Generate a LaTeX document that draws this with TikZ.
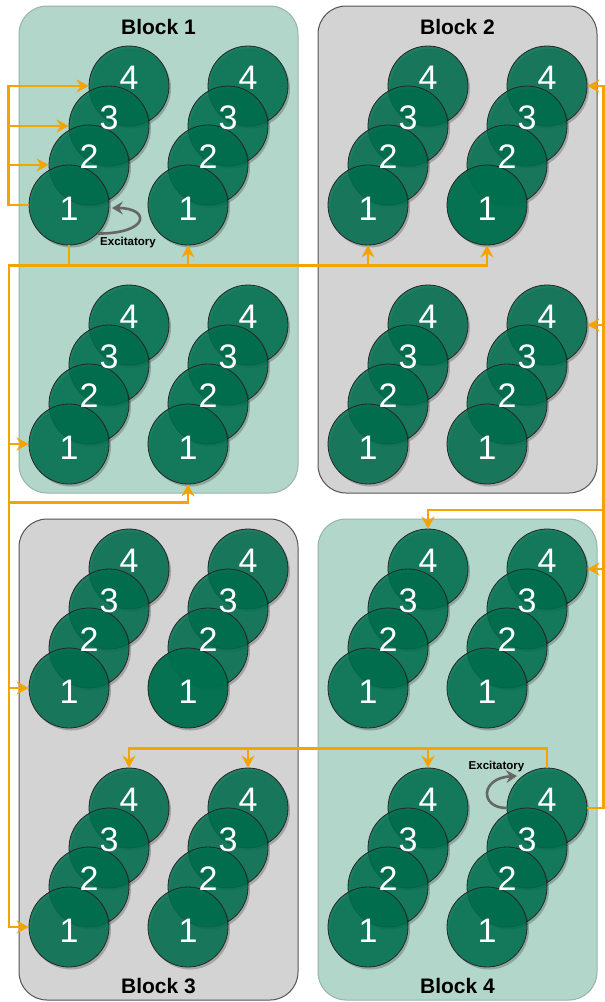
\documentclass[tikz,border=0pt]{standalone}
\usepackage{fontspec}
\setmainfont{Liberation Sans}
\usetikzlibrary{arrows.meta,calc,shadows}
\definecolor{orng}{RGB}{245,163,0}
\definecolor{tealbg}{RGB}{178,214,202}
\definecolor{tealbd}{RGB}{150,180,170}
\definecolor{graybg}{RGB}{211,211,211}
\definecolor{graybd}{RGB}{85,85,85}
\definecolor{neur}{RGB}{0,112,79}
\definecolor{loopc}{RGB}{102,102,102}
\tikzset{
  blockt/.style={draw=tealbd, fill=tealbg, rounded corners=28pt, line width=1pt, inner sep=0pt},
  blockg/.style={draw=graybd, fill=graybg, rounded corners=28pt, line width=1pt, inner sep=0pt},
  neuron/.style={circle, minimum size=80pt, inner sep=0pt, draw=black!85, line width=0.8pt,
    fill=neur, fill opacity=0.85,
    drop shadow={shadow xshift=2pt, shadow yshift=-2.5pt, opacity=0.22, fill=black}},
  solidneuron/.style={neuron, fill opacity=0.96},
  numtext/.style={text=white, font=\fontsize{34}{34}\selectfont, inner sep=0pt},
  blocktitle/.style={font=\bfseries\fontsize{21}{21}\selectfont, inner sep=0pt},
  exc/.style={font=\bfseries\fontsize{11.5}{12}\selectfont, inner sep=0pt},
  conn/.style={draw=orng, line width=2.4pt, -{Stealth[length=12pt,width=13pt,inset=4pt]}},
  selfloop/.style={draw=loopc, line width=2.6pt, -{Stealth[length=11pt,width=13pt,inset=4pt]}},
}
\newcommand{\neuronstack}[4]{%
  \node[neuron] (#1n4) at (#2+60,#3-119) {};
  \node[neuron] (#1n3) at (#2+40,#3-79) {};
  \node[neuron] (#1n2) at (#2+20,#3-40) {};
  \node[#4] (#1n1) at (#2,#3) {};
  \node[numtext] (#1t4) at ($(#1n4)+(0,-8)$) {4};
  \node[numtext] (#1t3) at ($(#1n3)+(0,-8)$) {3};
  \node[numtext] (#1t2) at ($(#1n2)+(0,-8)$) {2};
  \node[numtext] (#1t1) at ($(#1n1)+(0,4)$) {1};
}
\begin{document}
\begin{tikzpicture}[x=1pt,y=-1pt]
\fill[white] (0,0) rectangle (605,1002);
\useasboundingbox (0,0) rectangle (605,1002);
% blocks
\node[blockt, minimum width=279pt, minimum height=487pt] (b1) at (158.5,249.5) {};
\node[blockg, minimum width=279pt, minimum height=487pt] (b2) at (457.5,249.5) {};
\node[blockg, minimum width=279pt, minimum height=481pt] (b3) at (158.5,759.5) {};
\node[blockt, minimum width=279pt, minimum height=481pt] (b4) at (457.5,759.5) {};
\node[blocktitle] (b1title) at (158.5,27) {Block 1};
\node[blocktitle] (b2title) at (457.5,27) {Block 2};
\node[blocktitle] (b3title) at (158.5,986) {Block 3};
\node[blocktitle] (b4title) at (457.5,986) {Block 4};
% neuron stacks
\neuronstack{b1tl}{69}{205}{neuron}
\neuronstack{b1tr}{188}{205}{neuron}
\neuronstack{b1bl}{69}{444}{neuron}
\neuronstack{b1br}{188}{444}{neuron}
\neuronstack{b2tl}{368}{205}{neuron}
\neuronstack{b2tr}{487}{205}{solidneuron}
\neuronstack{b2bl}{368}{444}{neuron}
\neuronstack{b2br}{487}{444}{neuron}
\neuronstack{b3tl}{69}{688}{neuron}
\neuronstack{b3tr}{188}{688}{solidneuron}
\neuronstack{b3bl}{69}{927}{neuron}
\neuronstack{b3br}{188}{927}{neuron}
\neuronstack{b4tl}{368}{688}{neuron}
\neuronstack{b4tr}{487}{688}{neuron}
\neuronstack{b4bl}{368}{927}{neuron}
\neuronstack{b4br}{487}{927}{neuron}
% connectors from block 1 neuron 1
\draw[conn] (b1tln1.west) -- ++(-20,0) |- (b1tln4.west);
\draw[conn] (b1tln1.west) -- ++(-20,0) |- (b1tln3.west);
\draw[conn] (b1tln1.west) -- ++(-20,0) |- (b1tln2.west);
\coordinate (busA) at ($(b1tln1.south)+(0,20)$);
\coordinate (leftbus) at ($(busA)+(-60,0)$);
\coordinate (lowbus) at ($(leftbus)+(0,237)$);
\draw[conn] (b1tln1.south) -- (busA) -| (b1trn1.south);
\draw[conn] (b1tln1.south) -- (busA) -| (b2tln1.south);
\draw[conn] (b1tln1.south) -- (busA) -| (b2trn1.south);
\draw[conn] (b1tln1.south) -- (busA) -- (leftbus) |- (b1bln1.west);
\draw[conn] (leftbus) -- (lowbus) -| (b1brn1.south);
\draw[conn] (leftbus) |- (b3tln1.west);
\draw[conn] (leftbus) |- (b3bln1.west);
% connectors from block 4 neuron 4
\coordinate (rbus) at ($(b4brn4.east)+(16,0)$);
\coordinate (rbtop) at ($(rbus)+(0,-298)$);
\draw[conn] (b4brn4.east) -- (rbus) |- (b2trn4.east);
\draw[conn] (rbus) |- (b2brn4.east);
\draw[conn] (rbus) |- (b4trn4.east);
\draw[conn] (rbus) -- (rbtop) -| (b4tln4.north);
\coordinate (tbus) at ($(b4brn4.north)+(0,-19)$);
\draw[conn] (b4brn4.north) -- (tbus) -| (b3bln4.north);
\draw[conn] (tbus) -| (b3brn4.north);
\draw[conn] (tbus) -| (b4bln4.north);
% excitatory self loops
\draw[selfloop] (b1tln1.-45) .. controls +(53,0) and +(38,0) .. ($(b1tln1.center)+(43,3)$);
\node[exc] (exc1) at (128,243) {Excitatory};
\draw[selfloop] (b4brn4.west) .. controls +(-27,0) and +(-37,2) .. ($(b4brn4.center)+(-30,-32)$);
\node[exc] (exc2) at (496.5,767) {Excitatory};
\end{tikzpicture}
\end{document}
